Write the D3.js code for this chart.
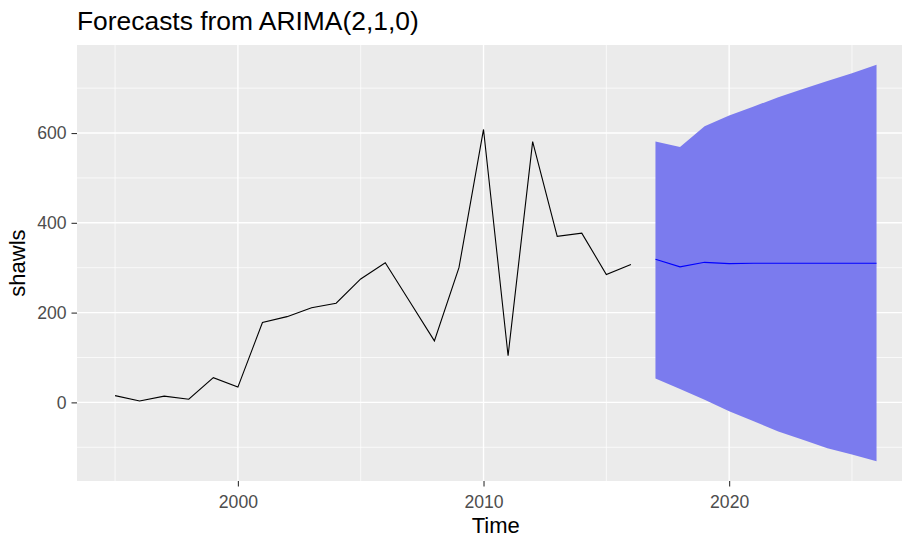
<!DOCTYPE html>
<html>
<head>
<meta charset="utf-8" />
<title>Forecasts from ARIMA(2,1,0)</title>
<style>
  body { margin: 0; background: #fff; }
  svg { display: block; font-family: "Liberation Sans", Arial, sans-serif; }
</style>
</head>
<body>
<svg width="902" height="538"></svg>
<script src="https://cdn.jsdelivr.net/npm/d3@7/dist/d3.min.js"></script>
<script>
// observed series
var years = d3.range(1995, 2017);
var shawls = [15, 3, 14, 7, 55, 34, 178, 191, 211, 221, 275, 311, 224, 137, 300, 608, 104, 581, 370, 377, 285, 307];

// forecast
var fcYears = d3.range(2017, 2027);
var fcMean  = [319, 302, 312, 309, 310, 310, 310, 310, 310, 310];
var fcLower = [53, 30, 6, -20, -42, -65, -83, -102, -116, -131];
var fcUpper = [581, 569, 615, 639, 659, 680, 698, 716, 733, 752];

var xMajor = [2000, 2010, 2020];
var xMinor = [1995, 2005, 2015, 2025];
var yMajor = [0, 200, 400, 600];
var yMinor = [-100, 100, 300, 500, 700];

var svg = d3.select('svg');
var pLeft = 77, pTop = 45, pBottom = 481, pRight = 914.6;

var observed = years.map(function (y, i) { return { t: y, v: shawls[i] }; });
var forecast = fcYears.map(function (y, i) {
    return { t: y, m: fcMean[i], lo: fcLower[i], hi: fcUpper[i] };
});

function expand(ext) {
    var pad = (ext[1] - ext[0]) * 0.05;
    return [ext[0] - pad, ext[1] + pad];
}

var x = d3.scaleLinear()
    .domain(expand([1995, 2026]))
    .range([pLeft, pRight]);

var y = d3.scaleLinear()
    .domain(expand([d3.min(fcLower.concat(shawls)), d3.max(fcUpper.concat(shawls))]))
    .range([pBottom, pTop]);

svg.append('clipPath').attr('id', 'panel')
    .append('rect')
    .attr('x', pLeft).attr('y', pTop)
    .attr('width', pRight - pLeft).attr('height', pBottom - pTop);

var panel = svg.append('g').attr('clip-path', 'url(#panel)');

panel.append('rect')
    .attr('x', pLeft).attr('y', pTop)
    .attr('width', pRight - pLeft).attr('height', pBottom - pTop)
    .attr('fill', '#ebebeb');

// grid
panel.selectAll('.ymin').data(yMinor).enter().append('line')
    .attr('x1', pLeft).attr('x2', pRight)
    .attr('y1', function (d) { return y(d); }).attr('y2', function (d) { return y(d); })
    .attr('stroke', '#fff').attr('stroke-width', 0.7);
panel.selectAll('.xmin').data(xMinor).enter().append('line')
    .attr('y1', pTop).attr('y2', pBottom)
    .attr('x1', function (d) { return x(d); }).attr('x2', function (d) { return x(d); })
    .attr('stroke', '#fff').attr('stroke-width', 0.7);
panel.selectAll('.ymaj').data(yMajor).enter().append('line')
    .attr('x1', pLeft).attr('x2', pRight)
    .attr('y1', function (d) { return y(d); }).attr('y2', function (d) { return y(d); })
    .attr('stroke', '#fff').attr('stroke-width', 1.4);
panel.selectAll('.xmaj').data(xMajor).enter().append('line')
    .attr('y1', pTop).attr('y2', pBottom)
    .attr('x1', function (d) { return x(d); }).attr('x2', function (d) { return x(d); })
    .attr('stroke', '#fff').attr('stroke-width', 1.4);

// observed line
panel.append('path')
    .datum(observed)
    .attr('fill', 'none')
    .attr('stroke', '#000')
    .attr('stroke-width', 1.1)
    .attr('d', d3.line()
        .x(function (d) { return x(d.t); })
        .y(function (d) { return y(d.v); }));

// prediction interval
panel.append('path')
    .datum(forecast)
    .attr('fill', '#7b7bee')
    .attr('d', d3.area()
        .x(function (d) { return x(d.t); })
        .y0(function (d) { return y(d.lo); })
        .y1(function (d) { return y(d.hi); }));

// point forecast
panel.append('path')
    .datum(forecast)
    .attr('fill', 'none')
    .attr('stroke', '#0000ff')
    .attr('stroke-width', 1.1)
    .attr('d', d3.line()
        .x(function (d) { return x(d.t); })
        .y(function (d) { return y(d.m); }));

// axes
var xAxis = svg.append('g')
    .attr('transform', 'translate(0,' + pBottom + ')')
    .call(d3.axisBottom(x).tickValues(xMajor).tickFormat(d3.format('d')).tickSize(5.5).tickPadding(4));
var yAxis = svg.append('g')
    .attr('transform', 'translate(' + pLeft + ',0)')
    .call(d3.axisLeft(y).tickValues(yMajor).tickSize(5.5).tickPadding(5));

[xAxis, yAxis].forEach(function (a) {
    a.attr('font-family', null).attr('font-size', null);
    a.select('.domain').remove();
    a.selectAll('.tick line').attr('stroke', '#333').attr('stroke-width', 1.1);
    a.selectAll('.tick text').attr('fill', '#4d4d4d').style('font-size', '17.6px');
});
xAxis.selectAll('.tick text').attr('dy', null).attr('y', 27);

// titles
svg.append('text')
    .attr('x', pLeft).attr('y', 30)
    .style('font-size', '26.4px')
    .attr('fill', '#000')
    .text('Forecasts from ARIMA(2,1,0)');

svg.append('text')
    .attr('x', (pLeft + pRight) / 2).attr('y', 533)
    .attr('text-anchor', 'middle')
    .style('font-size', '22px')
    .text('Time');

svg.append('text')
    .attr('transform', 'translate(25,' + ((pTop + pBottom) / 2) + ') rotate(-90)')
    .attr('text-anchor', 'middle')
    .style('font-size', '22px')
    .text('shawls');
</script>
</body>
</html>
